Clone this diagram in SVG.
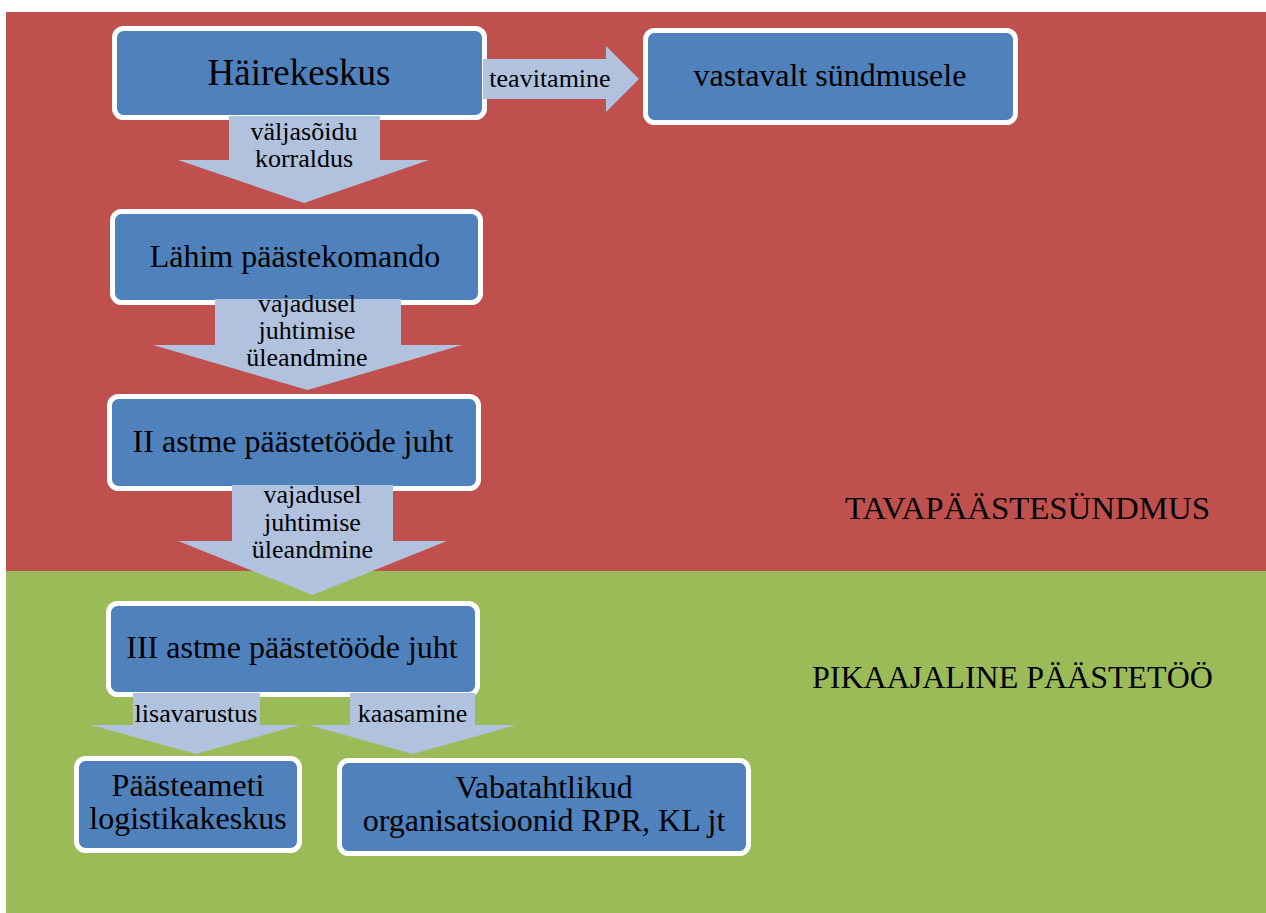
<svg xmlns="http://www.w3.org/2000/svg" width="1266" height="913" viewBox="0 0 1266 913">
<style>
.node{fill:#4F81BD;stroke:#FFFFFF;stroke-width:5}
.arr{fill:#B0C2DE;stroke:none}
text{font-family:"Liberation Serif","Times New Roman",serif;fill:#000;text-anchor:middle}
.t32{font-size:32px}
.t26{font-size:26px}
.sec{font-size:32px;text-anchor:start}
</style>
<rect x="0" y="0" width="1266" height="913" fill="#FFFFFF"/>
<g id="zone-tava">
<rect x="6" y="12" width="1260" height="559" fill="#C0504D"/>
<text class="sec" x="845" y="519" textLength="365" lengthAdjust="spacingAndGlyphs">TAVAPÄÄSTESÜNDMUS</text>
</g>
<g id="zone-pika">
<rect x="6" y="571" width="1260" height="342" fill="#9BBB59"/>
<text class="sec" x="812" y="688">PIKAAJALINE PÄÄSTETÖÖ</text>
</g>
<g id="n-hairekeskus">
<rect class="node" x="114.5" y="28.5" width="370" height="89" rx="9"/>
<text x="299" y="85" style="font-size:37px">Häirekeskus</text>
</g>
<g id="n-vastavalt">
<rect class="node" x="645.5" y="30.5" width="370" height="92" rx="9"/>
<text class="t32" x="830" y="86">vastavalt sündmusele</text>
</g>
<g id="n-lahim">
<rect class="node" x="112.5" y="211.5" width="368" height="91" rx="9"/>
<text class="t32" x="295" y="267">Lähim päästekomando</text>
</g>
<g id="n-ii">
<rect class="node" x="109.5" y="396.5" width="369" height="92" rx="9"/>
<text class="t32" x="293" y="452">II astme päästetööde juht</text>
</g>
<g id="n-iii">
<rect class="node" x="108.5" y="603.5" width="369" height="91" rx="9"/>
<text class="t32" x="292" y="658">III astme päästetööde juht</text>
</g>
<g id="n-logistika">
<rect class="node" x="76.5" y="758.5" width="223" height="92" rx="9"/>
<text class="t32" x="188" y="796">Päästeameti</text>
<text class="t32" x="188" y="829">logistikakeskus</text>
</g>
<g id="n-vabatahtlikud">
<rect class="node" x="339.5" y="760.5" width="409" height="93" rx="9"/>
<text class="t32" x="544" y="798">Vabatahtlikud</text>
<text class="t32" x="544" y="831">organisatsioonid RPR, KL jt</text>
</g>
<g id="connectors">
<g id="c-teavitamine">
<polygon class="arr" points="483,59 606,59 606,46 639,79 606,112 606,99 483,99"/>
<text class="t26" x="550" y="87">teavitamine</text>
</g>
<g id="c-valjasoidu">
<polygon class="arr" points="229,116 380,116 380,160 429,160 304,203 178,160 229,160"/>
<text class="t26" x="304" y="140">väljasõidu</text>
<text class="t26" x="304" y="167">korraldus</text>
</g>
<g id="c-vajadusel1">
<polygon class="arr" points="215,299 401,299 401,345 462,345 307.5,390 153,345 215,345"/>
<text class="t26" x="307" y="312">vajadusel</text>
<text class="t26" x="307" y="339">juhtimise</text>
<text class="t26" x="307" y="366">üleandmine</text>
</g>
<g id="c-vajadusel2">
<polygon class="arr" points="232,485 393,485 393,541 447,541 312.5,595 178,541 232,541"/>
<text class="t26" x="312.5" y="503">vajadusel</text>
<text class="t26" x="312.5" y="531">juhtimise</text>
<text class="t26" x="312.5" y="558">üleandmine</text>
</g>
<g id="c-lisavarustus">
<polygon class="arr" points="133,693 260,693 260,725 300,725 196,754 91,725 133,725"/>
<text class="t26" x="196" y="722">lisavarustus</text>
</g>
<g id="c-kaasamine">
<polygon class="arr" points="350,693 475,693 475,725 516,725 412.5,754 309,725 350,725"/>
<text class="t26" x="412.5" y="722">kaasamine</text>
</g>
</g>
</svg>
